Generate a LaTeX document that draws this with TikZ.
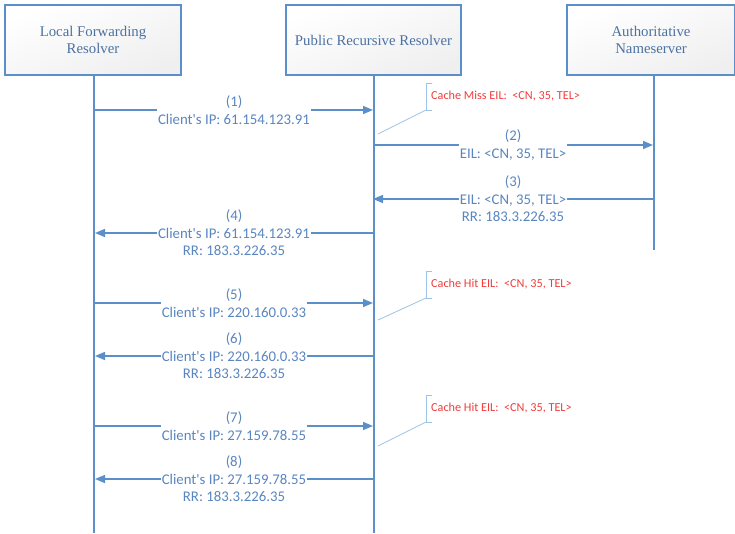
\documentclass[tikz,border=0pt]{standalone}
\usepackage{fontspec}
\setmainfont{Liberation Serif}
\newfontfamily\lblfont{Carlito}
\usetikzlibrary{arrows.meta}
\definecolor{lineblue}{HTML}{5B8FC9}
\definecolor{textblue}{HTML}{5A86C0}
\definecolor{calloutblue}{HTML}{9DC3E6}
\definecolor{notered}{HTML}{F03C3C}
\tikzset{
  actor/.style={draw=lineblue, line width=1.8pt, top color=white, bottom color=blue!4!gray!12, shading angle=20,
    minimum width=176pt, minimum height=70pt, align=center, font=\fontsize{14.8}{17}\selectfont, text=textblue!85!black},
  lifeline/.style={draw=lineblue, line width=2.6pt},
  msg/.style={draw=lineblue, line width=1.5pt, -{Triangle[length=10pt,width=8pt]}},
  msglbl/.style={fill=white, inner sep=1pt, align=center, text=textblue, font=\lblfont\fontsize{14.8}{17.5}\selectfont},
  callout/.style={draw=calloutblue, line width=0.8pt},
  notetext/.style={text=notered, anchor=west, inner sep=0pt, font=\lblfont\fontsize{12.2}{14}\selectfont},
}
\begin{document}
\begin{tikzpicture}[x=1pt,y=-1pt]
\useasboundingbox (0,0) rectangle (735,533);
% actors
\node[actor] (lfr) at (93,40) {Local Forwarding\\Resolver};
\node[actor, minimum width=175pt] (prr) at (373.5,40) {Public Recursive Resolver};
\node[actor, minimum width=168pt] (ans) at (651,40) {Authoritative\\Nameserver};
% lifelines
\coordinate (lfrEnd) at (94,533);
\coordinate (prrEnd) at (374,533);
\coordinate (ansEnd) at (654,250);
\draw[lifeline] (94,75) -- (lfrEnd);
\draw[lifeline] (374,75) -- (prrEnd);
\draw[lifeline] (654,75) -- (ansEnd);
% message endpoints
\foreach \n/\y in {1/110,2/145,3/199,4/233,5/303,6/356,7/426,8/479}{
  \coordinate (L\n) at (95,\y);
  \coordinate (P\n) at (373,\y);
  \coordinate (A\n) at (653,\y);
}
% messages
\draw[msg] (L1) -- node[msglbl] (m1) {(1)\\Client's IP: 61.154.123.91} (P1);
\draw[msg] (P2) -- node[msglbl] (m2) {(2)\\EIL: <CN, 35, TEL>} (A2);
\draw[msg] (A3) -- node[msglbl] (m3) {(3)\\EIL: <CN, 35, TEL>\\RR: 183.3.226.35} (P3);
\draw[msg] (P4) -- node[msglbl] (m4) {(4)\\Client's IP: 61.154.123.91\\RR: 183.3.226.35} (L4);
\draw[msg] (L5) -- node[msglbl] (m5) {(5)\\Client's IP: 220.160.0.33} (P5);
\draw[msg] (P6) -- node[msglbl] (m6) {(6)\\Client's IP: 220.160.0.33\\RR: 183.3.226.35} (L6);
\draw[msg] (L7) -- node[msglbl] (m7) {(7)\\Client's IP: 27.159.78.55} (P7);
\draw[msg] (P8) -- node[msglbl] (m8) {(8)\\Client's IP: 27.159.78.55\\RR: 183.3.226.35} (L8);
% callouts
\foreach \n/\top/\tip in {1/83/134,2/271/320,3/395/446}{
  \coordinate (bt\n) at (426,\top);
  \coordinate (bb\n) at (426,\top+27);
  \coordinate (tip\n) at (378,\tip);
  \draw[callout] (432,\top) -- (bt\n) -- (bb\n) -- (432,\top+27);
  \draw[callout] (bb\n) -- (tip\n);
}
\node[notetext] (n1) at (431,96.5) {Cache Miss EIL:\ \ <CN, 35, TEL>};
\node[notetext] (n2) at (431,284.5) {Cache Hit EIL:\ \ <CN, 35, TEL>};
\node[notetext] (n3) at (431,408.5) {Cache Hit EIL:\ \ <CN, 35, TEL>};
\end{tikzpicture}
\end{document}
